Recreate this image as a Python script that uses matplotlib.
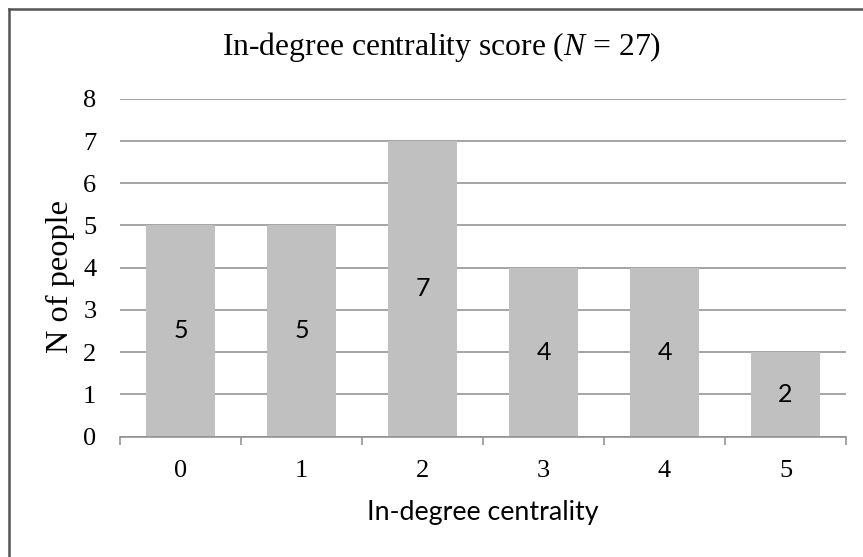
import matplotlib
matplotlib.use("Agg")
import matplotlib.pyplot as plt
from matplotlib.lines import Line2D
from matplotlib.ticker import FixedLocator

categories = ["0", "1", "2", "3", "4", "5"]
counts = [5, 5, 7, 4, 4, 2]
title = "In-degree centrality score ($N$ = 27)"
xlabel = "In-degree centrality"
ylabel = "N of people"

plt.rcParams["mathtext.fontset"] = "custom"
plt.rcParams["mathtext.rm"] = "Liberation Serif"
plt.rcParams["mathtext.it"] = "Liberation Serif:italic"

W, H = 863, 557
fig = plt.figure(figsize=(W / 100, H / 100), dpi=100)
ax = fig.add_axes([120 / W, 1 - 436.5 / H, 726 / W, (436.5 - 98.8) / H])

grid_c = "#8c8c8c"
x = list(range(len(categories)))
ax.bar(x, counts, width=0.57, color="#c0c0c0", zorder=2)
for xi, v in zip(x, counts):
    ax.text(xi, v / 2, str(v), ha="center", va="center",
            family="Lato", fontsize=18, color="black", zorder=3)

ax.set_xlim(-0.5, len(categories) - 0.5)
ax.set_ylim(0, 8)
ax.set_yticks(range(0, 9))
ax.set_xticks(x)
ax.set_xticklabels(categories)
ax.xaxis.set_minor_locator(FixedLocator([i - 0.5 for i in range(len(categories) + 1)]))

ax.yaxis.grid(True, color=grid_c, lw=1.1, zorder=1)
ax.set_axisbelow(True)
for s in ["left", "right", "top"]:
    ax.spines[s].set_visible(False)
ax.spines["bottom"].set_color(grid_c)
ax.spines["bottom"].set_linewidth(1.1)

ax.tick_params(axis="y", length=0, pad=17)
ax.tick_params(axis="x", which="major", length=0, pad=17)
ax.tick_params(axis="x", which="minor", length=5.8, width=1.1, color=grid_c)
for lab in ax.get_xticklabels() + ax.get_yticklabels():
    lab.set_family("Liberation Serif")
    lab.set_fontsize(19)

ax.set_xlabel(xlabel, family="Lato", fontsize=19.3)
ax.xaxis.set_label_coords(0.5, -0.2236)
ax.xaxis.label.set_va("center")
ax.set_ylabel(ylabel, family="Liberation Serif", fontsize=23.3)
ax.yaxis.set_label_coords(-0.0826, 0.475)
ax.yaxis.label.set_va("center")

fig.text(442 / W, 1 - 47 / H, title, ha="center", va="center",
         family="Liberation Serif", fontsize=22.8)

# chart border (left and top edges only visible)
fig.add_artist(Line2D([9 / W, 9 / W], [0, 1 - 9 / H], color="#555555", lw=1.8))
fig.add_artist(Line2D([9 / W, 1], [1 - 9 / H, 1 - 9 / H], color="#555555", lw=1.8))

fig.savefig("out.png", dpi=100)
